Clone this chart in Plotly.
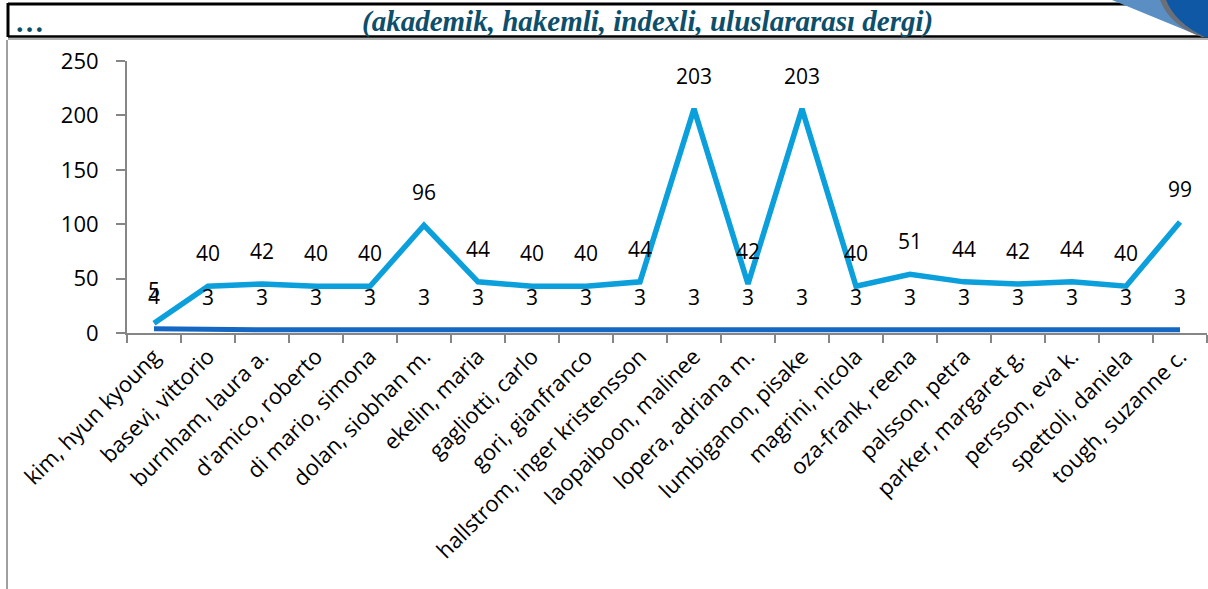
import numpy as np
import plotly.graph_objects as go

categories = ["kim, hyun kyoung", "basevi, vittorio", "burnham, laura a.", "d'amico, roberto",
              "di mario, simona", "dolan, siobhan m.", "ekelin, maria", "gagliotti, carlo",
              "gori, gianfranco", "hallstrom, inger kristensson", "laopaiboon, malinee",
              "lopera, adriana m.", "lumbiganon, pisake", "magrini, nicola", "oza-frank, reena",
              "palsson, petra", "parker, margaret g.", "persson, eva k.", "spettoli, daniela",
              "tough, suzanne c."]
series_base = [4, 3, 3, 3, 3, 3, 3, 3, 3, 3, 3, 3, 3, 3, 3, 3, 3, 3, 3, 3]
series_top = [5, 40, 42, 40, 40, 96, 44, 40, 40, 44, 203, 42, 203, 40, 51, 44, 42, 44, 40, 99]
y_ticks = [0, 50, 100, 150, 200, 250]

W, H = 1208, 589
L, R, T, B = 127, 1207, 61, 333
def px(x): return (x - L) / (R - L)
def py(y): return (B - y) / (B - T)

base = np.array(series_base)
top_cum = base + np.array(series_top)

LIGHT = "#0b9fdb"
DARK = "#1467c2"
FONT = "Open Sans"
FS = 22

fig = go.Figure()
fig.add_trace(go.Scatter(x=categories, y=top_cum, mode="lines",
                         line=dict(color=LIGHT, width=5.5), hoverinfo="skip"))
fig.add_trace(go.Scatter(x=categories, y=base, mode="lines",
                         line=dict(color=DARK, width=5), hoverinfo="skip"))

annotations = []
for c, v, yc in zip(categories, series_top, top_cum):
    annotations.append(dict(x=c, y=yc, text=str(v), showarrow=False, yshift=33,
                            font=dict(family=FONT, size=FS - 1, color="black")))
for c, v in zip(categories, series_base):
    annotations.append(dict(x=c, y=v, text=str(v), showarrow=False, yshift=33,
                            font=dict(family=FONT, size=FS - 1, color="black")))

# header texts
annotations.append(dict(xref="paper", yref="paper", x=px(647), y=py(21),
                        text="<b><i>(akademik, hakemli, indexli, uluslararası dergi)</i></b>",
                        showarrow=False, xanchor="center", yanchor="middle",
                        font=dict(family="Liberation Serif", size=29, color="#0d4f6b")))
annotations.append(dict(xref="paper", yref="paper", x=px(13), y=py(22),
                        text="<b>…</b>", showarrow=False, xanchor="left", yanchor="middle",
                        font=dict(family="Liberation Serif", size=29, color="#0d4f6b")))

shapes = [
    # header box lines
    dict(type="line", xref="paper", yref="paper", x0=px(8), x1=px(1140), y0=py(4), y1=py(4),
         line=dict(color="black", width=3)),
    dict(type="line", xref="paper", yref="paper", x0=px(8), x1=px(1208), y0=py(36.5), y1=py(36.5),
         line=dict(color="black", width=2.5)),
    dict(type="line", xref="paper", yref="paper", x0=px(8), x1=px(1208), y0=py(39), y1=py(39),
         line=dict(color="#b0b0b0", width=2)),
    dict(type="line", xref="paper", yref="paper", x0=px(8), x1=px(8), y0=py(3), y1=py(37),
         line=dict(color="black", width=3)),
    # left gray frame line
    dict(type="line", xref="paper", yref="paper", x0=px(7), x1=px(7), y0=py(40), y1=py(589),
         line=dict(color="#a0a0a0", width=2)),
]
# swoosh decoration
light_path = "M {} {} L {} {} Q {} {} {} {} Z".format(
    px(1112), py(0), px(1166), py(0), px(1175), py(25), px(1202), py(37))
shapes.append(dict(type="path", xref="paper", yref="paper", path=light_path,
                   fillcolor="#5b8fc4", line=dict(width=0)))
shadow_path = "M {} {} Q {} {} {} {} L {} {} Q {} {} {} {} Z".format(
    px(1160), py(0), px(1170), py(26), px(1202), py(37),
    px(1206), py(37), px(1176), py(24), px(1168), py(0))
shapes.append(dict(type="path", xref="paper", yref="paper", path=shadow_path,
                   fillcolor="#6b6f78", line=dict(width=0)))
dark_path = "M {} {} L {} {} L {} {} L {} {} Q {} {} {} {} Z".format(
    px(1166), py(0), px(1208), py(0), px(1208), py(37), px(1205), py(37),
    px(1176), py(24), px(1166), py(0))
shapes.append(dict(type="path", xref="paper", yref="paper", path=dark_path,
                   fillcolor="#0e58a6", line=dict(width=0)))

fig.update_layout(
    width=W, height=H,
    margin=dict(l=L, r=W - R, t=T, b=H - B, pad=0),
    paper_bgcolor="white", plot_bgcolor="white",
    showlegend=False,
    annotations=annotations, shapes=shapes,
    xaxis=dict(type="category", categoryorder="array", categoryarray=categories,
               tickson="boundaries", ticks="outside", ticklen=8, tickcolor="#868686", tickwidth=2,
               showline=True, linecolor="#868686", linewidth=2, showgrid=False,
               tickangle=-45, tickfont=dict(family=FONT, size=FS, color="black"),
               range=[-0.5, len(categories) - 0.5], fixedrange=True),
    yaxis=dict(range=[0, 250], tickvals=y_ticks, ticktext=[str(v) for v in y_ticks],
               ticks="outside", ticklen=9, tickcolor="#868686", tickwidth=2,
               showline=True, linecolor="#868686", linewidth=2, showgrid=False, zeroline=False,
               tickfont=dict(family=FONT, size=FS, color="black"), ticklabelstandoff=13,
               fixedrange=True),
)

fig.write_html("out.html", config={"displayModeBar": False},
               post_script="document.body.style.margin='0';document.body.style.overflow='hidden';")
